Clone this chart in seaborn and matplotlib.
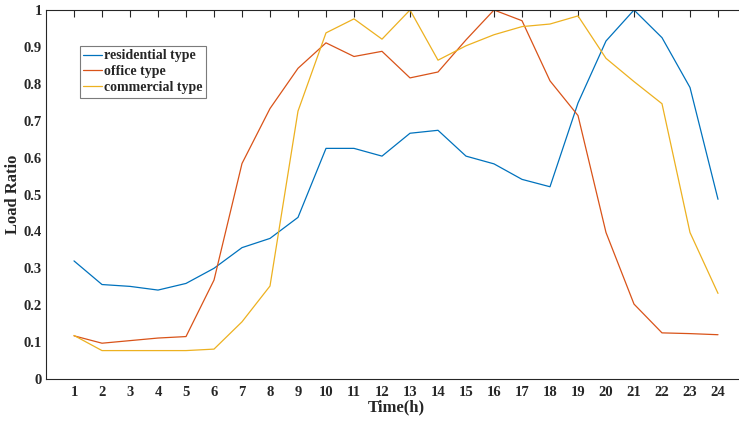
import numpy as np
import pandas as pd
import seaborn as sns
import matplotlib
matplotlib.use("Agg")
import matplotlib.pyplot as plt

hours = list(range(1, 25))

residential = [0.320, 0.256, 0.251, 0.241, 0.259, 0.300, 0.356, 0.381, 0.438, 0.625,
               0.625, 0.604, 0.666, 0.674, 0.604, 0.583, 0.541, 0.521, 0.748, 0.916,
               1.000, 0.925, 0.790, 0.487]
office = [0.117, 0.097, 0.104, 0.111, 0.115, 0.268, 0.584, 0.733, 0.842, 0.911,
          0.874, 0.888, 0.816, 0.832, 0.919, 1.000, 0.971, 0.808, 0.714, 0.397,
          0.203, 0.125, 0.123, 0.120]
commercial = [0.118, 0.077, 0.077, 0.077, 0.077, 0.081, 0.155, 0.252, 0.726, 0.938,
              0.976, 0.921, 1.000, 0.864, 0.903, 0.933, 0.955, 0.962, 0.984, 0.869,
              0.806, 0.746, 0.397, 0.232]

series_names = ["residential type", "office type", "commercial type"]
series_colors = ["#0072BD", "#D95319", "#EDB120"]
y_ticks = [0, 0.1, 0.2, 0.3, 0.4, 0.5, 0.6, 0.7, 0.8, 0.9, 1]
y_tick_labels = ["0", "0.1", "0.2", "0.3", "0.4", "0.5", "0.6", "0.7", "0.8", "0.9", "1"]

df = pd.DataFrame({
    "Time(h)": hours * 3,
    "Load Ratio": residential + office + commercial,
    "type": [series_names[0]] * 24 + [series_names[1]] * 24 + [series_names[2]] * 24,
})

sns.set_style("white")
plt.rcParams["font.family"] = ["Liberation Serif", "DejaVu Serif"]
plt.rcParams["font.weight"] = "bold"

W, H = 739, 422
fig = plt.figure(figsize=(W / 100, H / 100), dpi=100)
ax = fig.add_axes([46 / W, (H - 379) / H, 700 / W, 369 / H])

sns.lineplot(data=df, x="Time(h)", y="Load Ratio", hue="type",
             hue_order=series_names, palette=series_colors,
             linewidth=0.9, ax=ax, legend=True)

axis_color = "#262626"
ax.set_xlim(0, 25)
ax.set_ylim(0, 1)
ax.set_xticks(hours)
ax.set_xticklabels([str(h) for h in hours])
ax.set_yticks(y_ticks)
ax.set_yticklabels(y_tick_labels)
ax.tick_params(direction="in", length=5, width=0.8, colors=axis_color,
               labelsize=10.5, top=True, right=True)
ax.tick_params(axis="y", pad=3)
ax.tick_params(axis="x", pad=5)
for lab in ax.get_xticklabels() + ax.get_yticklabels():
    lab.set_fontweight("bold")
for sp in ax.spines.values():
    sp.set_color(axis_color)
    sp.set_linewidth(0.8)

ax.set_xlabel("Time(h)", fontsize=12, fontweight="bold", color=axis_color, labelpad=0)
ax.set_ylabel("Load Ratio", fontsize=12, fontweight="bold", color=axis_color, labelpad=2)

leg = ax.legend(loc="upper left", bbox_to_anchor=(80 / W, 1 - 46 / H),
                bbox_transform=fig.transFigure, borderaxespad=0,
                frameon=True, fancybox=False, handlelength=1.3, handletextpad=0.15,
                labelspacing=0.2, borderpad=0.25, prop={"weight": "bold", "size": 10})
leg.get_frame().set_edgecolor("#5a5a5a")
leg.get_frame().set_linewidth(0.8)
for t in leg.get_texts():
    t.set_color(axis_color)

fig.savefig("out.png", dpi=100)
